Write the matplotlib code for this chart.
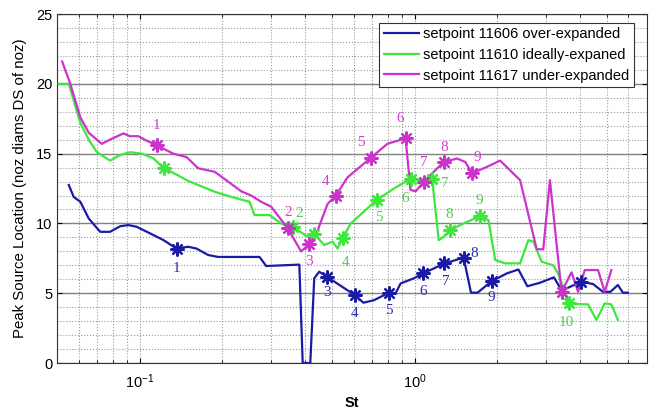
import numpy as np
import matplotlib
matplotlib.use('Agg')
import matplotlib.pyplot as plt
from matplotlib.ticker import MultipleLocator, LogLocator, NullFormatter

plt.rcParams['font.family'] = ['Liberation Sans', 'DejaVu Sans']

# setpoint 11606 over-expanded (blue)
st_over = [0.0552, 0.0575, 0.0608, 0.0652, 0.0718, 0.0780, 0.0849, 0.0910, 0.0975, 0.1090,
           0.1219, 0.1362, 0.1500, 0.1609, 0.1773, 0.1928, 0.2729, 0.2885, 0.3809, 0.3918,
           0.4175, 0.4316, 0.4500, 0.4799, 0.6062, 0.6517, 0.7120, 0.8070, 0.8535, 0.8898,
           0.9942, 1.075, 1.285, 1.509, 1.605, 1.696, 1.911, 2.167, 2.388, 2.574,
           2.861, 3.216, 3.361, 3.575, 4.051, 4.463, 4.852, 5.161, 5.497, 5.732, 5.976]
loc_over = [12.75, 11.9, 11.55, 10.36, 9.4, 9.4, 9.8, 9.88, 9.76, 9.29,
            8.81, 8.2, 8.33, 8.2, 7.74, 7.6, 7.6, 6.95, 7.05, 0.0,
            0.0, 6.07, 6.54, 6.18, 4.87, 4.32, 4.5, 5.04, 5.0, 5.7,
            6.07, 6.42, 7.13, 7.55, 5.04, 5.04, 5.87, 6.42, 6.7, 5.5,
            5.75, 6.14, 5.5, 5.35, 5.82, 5.66, 5.1, 5.1, 5.59, 5.04, 5.04]
pts_over = [11, 23, 24, 27, 31, 32, 33, 36, 44]
lbl_over = ['1', '3', '4', '5', '6', '7', '8', '9', '']

# setpoint 11610 ideally-expanded (green)
st_ideal = [0.0507, 0.0552, 0.0575, 0.0608, 0.0652, 0.0699, 0.0780, 0.0849, 0.0922, 0.1017,
            0.1121, 0.1225, 0.1362, 0.1481, 0.1632, 0.1874, 0.2154, 0.2509, 0.2617, 0.2966,
            0.3269, 0.3604, 0.4086, 0.4316, 0.4692, 0.5031, 0.5245, 0.5470, 0.5862, 0.7283,
            0.8414, 0.9672, 1.051, 1.159, 1.225, 1.277, 1.350, 1.509, 1.724, 1.858,
            1.966, 2.136, 2.422, 2.595, 2.706, 2.902, 3.197, 3.333, 3.653, 3.886,
            4.280, 4.592, 4.920, 5.204, 5.497]
loc_ideal = [20.0, 20.0, 18.8, 17.2, 16.0, 15.1, 14.5, 14.9, 15.1, 15.0,
             14.66, 13.95, 13.5, 13.1, 12.75, 12.27, 11.9, 11.55, 10.6, 10.6,
             10.0, 9.76, 9.05, 9.25, 8.45, 8.7, 8.2, 8.93, 10.0, 11.68,
             12.5, 13.2, 13.1, 13.2, 8.8, 9.05, 9.53, 10.0, 10.5, 10.24,
             7.38, 7.14, 7.14, 8.8, 8.7, 7.26, 7.0, 6.4, 4.27, 4.23,
             4.2, 3.08, 4.27, 4.2, 3.08]
pts_ideal = [11, 21, 23, 27, 29, 31, 33, 36, 38, 48]
lbl_ideal = ['', '2', '', '4', '5', '6', '7', '8', '9', '10']

# setpoint 11617 under-expanded (magenta)
st_under = [0.0522, 0.0559, 0.0608, 0.0652, 0.0728, 0.0778, 0.0873, 0.0920, 0.0989, 0.1042,
            0.1152, 0.1325, 0.1481, 0.1632, 0.1874, 0.2096, 0.2342, 0.2545, 0.2767, 0.3008,
            0.3457, 0.3864, 0.4140, 0.4440, 0.4827, 0.5172, 0.5704, 0.6929, 0.7962, 0.9277,
            0.9672, 1.010, 1.081, 1.175, 1.277, 1.428, 1.530, 1.619, 1.834, 2.049,
            2.422, 2.784, 2.941, 3.110, 3.429, 3.727, 3.938, 4.165, 4.654, 4.920, 5.204]
loc_under = [21.6, 20.0, 17.6, 16.5, 15.7, 16.0, 16.45, 16.25, 16.25, 16.0,
             15.6, 15.0, 14.75, 13.95, 13.7, 13.0, 12.3, 12.0, 11.55, 11.2,
             9.65, 8.0, 8.5, 9.5, 11.4, 12.0, 13.3, 14.7, 15.7, 16.1,
             12.4, 12.3, 13.0, 13.7, 14.4, 14.65, 14.4, 13.6, 14.05, 14.5,
             13.1, 8.15, 8.15, 13.1, 5.1, 6.5, 5.1, 6.66, 6.66, 5.1, 6.66]
pts_under = [10, 20, 22, 25, 27, 29, 32, 34, 37, 44]
lbl_under = ['1', '2', '3', '4', '5', '6', '7', '8', '9', '']

# label offsets in pixels (dx, dy)
off_over = [(0, -20), (0, -16), (0, -18), (0, -18), (0, -18), (1, -18), (11, 4), (0, -16), (0, 0)]
off_ideal = [(0, 0), (6, 13), (0, 0), (3, -24), (2, -18), (-5, -20), (13, -5), (-1, 15), (0, 16), (-3, -19)]
off_under = [(0, 20), (0, 16), (0, -17), (-10, 14), (-10, 15), (-5, 20), (0, 19), (0, 15), (5, 16), (0, 0)]

series = [
    (st_over, loc_over, pts_over, lbl_over, off_over, '#1a1aa6', '#2e2ea8', 'setpoint 11606 over-expanded'),
    (st_ideal, loc_ideal, pts_ideal, lbl_ideal, off_ideal, '#3be83b', '#52cc52', 'setpoint 11610 ideally-expaned'),
    (st_under, loc_under, pts_under, lbl_under, off_under, '#cc33cc', '#d040d0', 'setpoint 11617 under-expanded'),
]

fig = plt.figure(figsize=(6.5, 4.13), dpi=100)
ax = fig.add_axes([0.0877, 0.121, 0.9073, 0.845])

for st, loc, pts, lbls, offs, col, lcol, name in series:
    st = np.array(st)
    loc = np.array(loc)
    ax.plot(st, loc, color=col, lw=1.6, label=name, zorder=3)
    # MATLAB-style asterisk markers
    ax.plot(st[pts], loc[pts], ls='none', marker=(8, 2, 0), ms=10, mew=1.6,
            mec=col, mfc=col, zorder=4)
    for i, lab, (dx, dy) in zip(pts, lbls, offs):
        if lab:
            ax.annotate(lab, (st[i], loc[i]), xytext=(dx * 0.72, dy * 0.72),
                        textcoords='offset points', ha='center', va='center',
                        color=lcol, fontsize=11, family='Liberation Serif', zorder=5)

ax.set_xscale('log')
ax.set_xlim(0.05, 7)
ax.set_ylim(0, 25)
ax.yaxis.set_major_locator(MultipleLocator(5))
ax.yaxis.set_minor_locator(MultipleLocator(1))
ax.xaxis.set_minor_locator(LogLocator(base=10, subs=np.arange(2, 10)))
ax.xaxis.set_minor_formatter(NullFormatter())

ax.grid(True, axis='x', which='both', ls=':', color='#9a9a9a', lw=0.8)
ax.grid(True, axis='y', which='minor', ls=':', color='#9a9a9a', lw=0.8)
ax.grid(True, axis='y', which='major', ls='-', color='#808080', lw=1.0)
ax.set_axisbelow(True)

ax.tick_params(which='both', direction='in', top=True, right=True, labelsize=10.5)
ax.tick_params(axis='x', which='major', pad=7)
ax.tick_params(which='minor', left=False, right=False)
for s in ax.spines.values():
    s.set_color('#333333')

ax.set_xlabel('St', fontsize=10.5, fontweight='bold', labelpad=3)
ax.set_ylabel('Peak Source Location (noz diams DS of noz)', fontsize=10.8, labelpad=6)

leg = ax.legend(loc='upper right', bbox_to_anchor=(0.99, 0.995), fontsize=10.5,
                fancybox=False, framealpha=1, edgecolor='#333333',
                handlelength=2.4, borderpad=0.3, labelspacing=0.45, handletextpad=0.3)
leg.get_frame().set_linewidth(0.8)

fig.savefig('out.png', dpi=100)
